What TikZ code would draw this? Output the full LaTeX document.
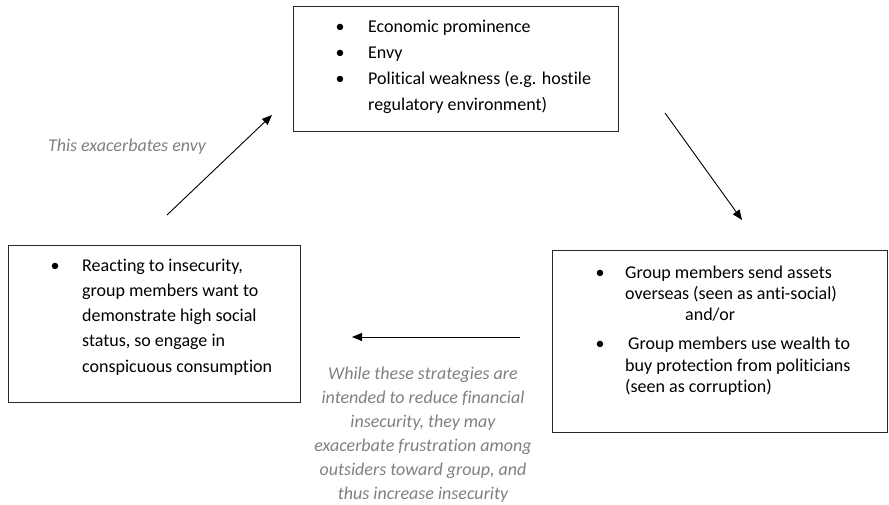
\documentclass[tikz,border=0pt]{standalone}
\usepackage{fontspec}
\setmainfont{Carlito}[Ligatures=NoCommon]
\usetikzlibrary{arrows.meta}
\definecolor{notegray}{RGB}{128,128,128}
\definecolor{linegray}{RGB}{40,40,40}
\newcommand{\bul}{\makebox[0pt][c]{\textbullet}}
\begin{document}
\begin{tikzpicture}[x=1bp,y=-1bp,
  box/.style={draw=linegray, line width=0.9bp, inner sep=0, anchor=north west},
  conn/.style={draw=black, line width=0.9bp, -{Triangle[length=10bp,width=8bp]}},
  note/.style={text=notegray, inner sep=0, anchor=base},
  body/.style={inner sep=0, anchor=base west, text=black}
]
\useasboundingbox (0,0) rectangle (889,505);

% boxes
\node[box, minimum width=325bp, minimum height=125bp] (topbox) at (293,6) {};
\node[box, minimum width=335bp, minimum height=182bp] (rightbox) at (552,250) {};
\node[box, minimum width=292bp, minimum height=157bp] (leftbox) at (8,245) {};

% box texts
\node[body] (toptext) at (340,33) {\fontsize{18bp}{26bp}\selectfont
\begin{tabular}[t]{@{}l@{\hspace{28bp}}l@{}}
\bul & Economic prominence\\
\bul & Envy\\
\bul & Political weakness (e.g. hostile\\
 & regulatory environment)
\end{tabular}};

\node[body] (righttext) at (600,279) {\fontsize{18bp}{21bp}\selectfont
\begin{tabular}[t]{@{}l@{\hspace{25bp}}l@{}}
\bul & Group members send assets\\
 & overseas (seen as anti-social)\\
 & \hspace{60bp}and/or\\[8bp]
\bul & \hspace{3bp}Group members use wealth to\\
 & buy protection from politicians\\
 & (seen as corruption)
\end{tabular}};

\node[body] (lefttext) at (55,272) {\fontsize{18bp}{25bp}\selectfont
\begin{tabular}[t]{@{}l@{\hspace{27bp}}l@{}}
\bul & Reacting to insecurity,\\
 & group members want to\\
 & demonstrate high social\\
 & status, so engage in\\
 & conspicuous consumption
\end{tabular}};

% notes
\node[note] (envynote) at (127,152) {\fontsize{18bp}{24bp}\selectfont\itshape This exacerbates envy};
\node[note] (stratnote) at (423,379) {\fontsize{18bp}{24bp}\selectfont\itshape
\begin{tabular}[t]{@{}c@{}}
While these strategies are\\
intended to reduce financial\\
insecurity, they may\\
exacerbate frustration among\\
outsiders toward group, and\\
thus increase insecurity
\end{tabular}};

% connectors
\coordinate (a1s) at (167,215);
\coordinate (a1e) at (272,115);
\coordinate (a2s) at (665,113);
\coordinate (a2e) at (742,220);
\coordinate (a3s) at (520,337);
\coordinate (a3e) at (352,337);
\draw[conn] (a1s) -- (a1e);
\draw[conn] (a2s) -- (a2e);
\draw[conn] (a3s) -- (a3e);
\end{tikzpicture}
\end{document}
